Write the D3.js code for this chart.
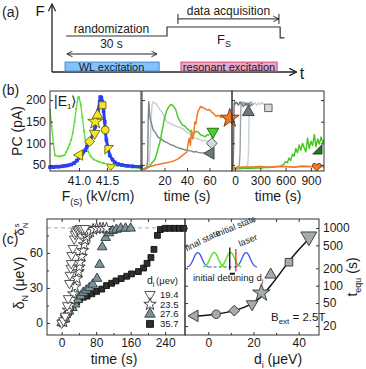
<!DOCTYPE html>
<html>
<head>
<meta charset="utf-8">
<script src="https://cdn.jsdelivr.net/npm/d3@7"></script>
<style>
body { margin: 0; background: #fff; }
svg text { font-family: "Liberation Sans", Arial, sans-serif; fill: #1a1a1a; }
</style>
</head>
<body>
<script>
// ---------- data ----------
// (a) timing scheme, seconds
const fieldT = [0, 33.3, 33.3, 70.6, 70.6, 72]
const fieldLevel = [0.8, 0.8, 1, 1, 0.76, 0.76]
const wlExc = [-0.3, 30.7]
const resExc = [37.9, 69.6]
const acqWin = [36.9, 70.2]
const randWin = [0.3, 30]

// (b) left: photocurrent vs field
const blueF = [40.48,40.54,40.59,40.64,40.70,40.75,40.80,40.86,40.91,40.96,41.02,41.06,41.11,41.14,41.18,41.21,41.25,41.29,41.31,41.34,41.37,41.38,41.40,41.42,41.44,41.46,41.47,41.49,41.52,41.55,41.60,41.64,41.70,41.77,41.86,41.96,42.11]
const bluePC = [45,45,46,46,47,48,49,51,54,60,68,76,84,92,100,110,122,138,156,175,196,207,206,196,174,150,128,108,88,72,62,56,52,50,48,47,46]
const greenF = [40.48,40.51,40.54,40.57,40.62,40.66,40.70,40.74,40.77,40.80,40.83,40.86,40.89,40.92,40.95,40.98,41.00,41.03,41.06,41.09,41.12,41.16,41.21,41.26,41.34,41.44,41.55,41.69,41.82,41.95,42.11]
const greenPC = [178,140,100,72,70,70,71,73,80,88,97,108,125,150,180,205,207,190,160,128,100,82,70,63,58,54,50,48,46,44,42]
const markF = [41.01, 41.19, 41.28, 41.29, 41.33, 41.42, 41.47, 41.54, 41.57]
const markPC = [73, 104, 123, 150, 165, 188, 131, 85, 47]
const markShape = ['triL', 'diamond', 'triD', 'star', 'triU', 'square', 'circle', 'corner', 'heart']

// (b) middle: 0-80 s
const midGrayDarkT = [0,2,4,5,5.5,6,6.5,7,8,9,10,12,14,16,18,20,22,24,26,28,30,32,34,36,38,40,42,44,46,48,50,52,54,56,58,60]
const midGrayDarkPC = [40,40,42,60,150,196,180,160,150,140,130,125,115,112,108,104,102,99,96,95,92,90,88,87,85,84,83,82,80,81,79,78,78,77,76,77]
const midGrayLightT = [0,4,6,7,8,9,10,11,12,13,14,16,18,20,22,24,26,28,30,32,34,36,38,40,42,44,46,48,50,52,54,56,58,60]
const midGrayLightPC = [40,42,45,80,150,190,196,194,192,190,185,178,172,160,150,148,145,142,140,138,136,134,130,126,122,118,113,112,110,108,106,107,105,104]
const midGreenT = [0,4,6,8,10,12,14,16,18,20,22,24,26,28,30,32,34,36,38,40,42,44,46,48,50,52,54,56,58,60]
const midGreenPC = [40,42,45,52,58,66,85,104,130,158,176,185,190,186,178,160,150,142,140,134,130,125,122,128,126,120,118,115,120,119]
const midOrangeT = [0,4,8,12,16,20,24,28,32,34,36,38,40,41,42,43,44,45,46,47,48,49,50,52,54,56,58,60,62,64,66,68,70,72,74,76]
const midOrangePC = [40,44,47,50,52,54,56,59,64,68,72,76,80,100,112,95,130,110,120,150,145,165,175,185,183,180,177,178,172,168,162,165,160,162,156,158]
const midMarkT = [61, 62, 63, 78]
const midMarkPC = [77, 100, 127, 158]

// (b) right: 0-1000 s
const rGray1T = [-36,-25,-20,-15,-12,-10,-5,0,20,40,60,80,100,120,140,160,180,200]
const rGray1PC = [42,44,60,130,180,192,196,190,195,188,196,190,185,193,188,192,186,190]
const rGray2T = [-36,0,30,50,60,65,70,75,80,100,120,140,160,180,200,220]
const rGray2PC = [40,42,45,48,80,150,185,195,190,196,188,194,190,195,188,192]
const rGray3T = [-36,50,100,130,150,160,165,170,175,180,200,220,240,260,280,300,320,340,360]
const rGray3PC = [40,42,44,46,50,80,150,185,195,190,196,190,194,188,193,190,195,190,188]
const rGreenT = [-36,0,50,100,150,200,250,300,350,400,450,500,550,580,600,620,640,660,680,700,720,740,760,780,800,820,840,860,880,900,920,940,960,980,1000,1020,1040,1055]
const rGreenPC = [40,41,41,42,42,42,43,43,44,44,45,46,48,52,58,55,66,60,75,70,88,78,96,84,100,90,80,112,88,105,95,120,92,110,98,115,102,108]
const rOrangeT = [-36,0,100,200,300,400,500,600,700,800,900,1000,1055]
const rOrangePC = [42,44,45,45,46,45,46,46,45,47,46,47,46]

// (c) left: detuning vs time
const legendDi = ['19.4', '23.5', '27.6', '35.7']
const s194T = [0,4,8,13,15,18,19,21,22,23,26,29,31,33,36,39,42,45,49,54]
const s194D = [0,2,6,15,21,34,41,47,51,58,64,72,76,78,80,80,81,81,81,81]
const s235T = [4,10,15,19,23,27,31,35,39,41,42,46,49,52,54,58,62,66,73,81,89,96,104]
const s235D = [1,5,11,15,20,25,31,38,44,48,52,57,62,67,71,74,77,78,80,81,81,81,81]
const s276T = [0,5,10,17,25,31,37,44,50,57,64,72,82,88,94,102,110,118,127,137,148,160]
const s276D = [0,3,7,10,13,16,20,23,26,28,30,33,38,50,65,73,77,79,80,81,81,81]
const s357T = [0,5,12,17,23,29,35,41,50,59,70,81,93,104,116,126,138,151,162,178,190,198,207,214,222,229,240,251,262,273,283]
const s357D = [0,3,7,10,14,17,18,20,22,23,25,27,29,32,34,36,38,40,42,44,47,51,56,63,75,80,81,81,81,81,81]
const saturation = 81.4

// (c) right: equilibration time vs initial detuning
const dI = [-6, 3.5, 11.5, 19.4, 23.5, 27.6, 35.7, 44.5]
const tEqu = [30, 32, 37, 48, 75, 155, 255, 710]
const equShape = ['triL', 'circle', 'diamond', 'triD', 'star', 'triU', 'square', 'triD']
const fitD = [-7,-2,3,8,13,18,23,28,33,38,43,47]
const fitT = [30,30.5,32,34.5,38.5,46,62,105,190,340,560,800]
const tEquTicks = [20, 50, 100, 200, 500, 1000]

// inset sketch: peak centres on an arbitrary energy axis
const finalPeaks = [1, 8.1]
const initialPeaks = [3.4, 5.8]
const peakProfile = [[-1.6,0],[-1.1,0.08],[-0.7,0.45],[-0.35,0.88],[0,1],[0.35,0.88],[0.7,0.45],[1.1,0.08],[1.6,0]]
const laserE = 6.6
const detuneE = 5.7

// ---------- setup ----------
const svg = d3.select('body').append('svg')
    .attr('width', 366)
    .attr('height', 369)

const defs = svg.append('defs')
defs.append('marker')
    .attr('id', 'arr')
    .attr('viewBox', '0 0 10 10')
    .attr('refX', 9).attr('refY', 5)
    .attr('markerWidth', 7).attr('markerHeight', 7)
    .attr('orient', 'auto-start-reverse')
    .append('path')
    .attr('d', 'M1,1 L9,5 L1,9')
    .attr('fill', 'none').attr('stroke', '#222').attr('stroke-width', 1.3)

function label(g, x, y, txt, size, anchor) {
    return g.append('text').attr('x', x).attr('y', y)
        .attr('font-size', size || 12)
        .attr('text-anchor', anchor || 'middle')
        .text(txt)
}

// custom marker shapes
const cornerSym = { draw(c, s) { const r = Math.sqrt(s) / 1.6; c.moveTo(-r, -r); c.lineTo(r, -r); c.lineTo(-r, r); c.closePath() } }
const cornerSym2 = { draw(c, s) { const r = Math.sqrt(s) / 1.6; c.moveTo(r, -r); c.lineTo(r, r); c.lineTo(-r, r); c.closePath() } }
const heartSym = { draw(c, s) {
    const r = Math.sqrt(s) / 3
    c.moveTo(0, r * 1.6)
    c.bezierCurveTo(-r * 2.4, 0, -r * 1.6, -r * 1.9, 0, -r * 0.6)
    c.bezierCurveTo(r * 1.6, -r * 1.9, r * 2.4, 0, 0, r * 1.6)
    c.closePath()
} }

function sym(shape, size) {
    const types = {
        triL: [d3.symbolTriangle, -90], triD: [d3.symbolTriangle, 180], triU: [d3.symbolTriangle, 0],
        diamond: [d3.symbolSquare, 45], square: [d3.symbolSquare, 0], circle: [d3.symbolCircle, 0],
        star: [d3.symbolStar, 0], corner: [cornerSym, 0], corner2: [cornerSym2, 0], heart: [heartSym, 0]
    }
    const t = types[shape]
    return { d: d3.symbol().type(t[0]).size(size)(), rot: t[1] }
}

function drawMarker(g, x, y, shape, size, fill, stroke) {
    const s = sym(shape, size)
    g.append('path')
        .attr('d', s.d)
        .attr('transform', `translate(${x},${y}) rotate(${s.rot})`)
        .attr('fill', fill)
        .attr('stroke', stroke)
        .attr('stroke-width', 0.9)
}

// ---------- (a) ----------
const ga = svg.append('g')
const tS = d3.scaleLinear().domain([0, 30]).range([66, 157])
const fS = d3.scaleLinear().domain([0, 1]).range([72, 27])

label(ga, 2, 17, '(a)', 14, 'start')
ga.append('line').attr('x1', 52).attr('y1', fS(0)).attr('x2', 52).attr('y2', 4)
    .attr('stroke', '#222').attr('stroke-width', 1.3).attr('marker-end', 'url(#arr)')
ga.append('line').attr('x1', 52).attr('y1', fS(0)).attr('x2', tS(76)).attr('y2', fS(0))
    .attr('stroke', '#222').attr('stroke-width', 1.3).attr('marker-end', 'url(#arr)')
label(ga, 40, 16, 'F', 15)
label(ga, 302, 79, 't', 16)

ga.append('rect')
    .attr('x', tS(wlExc[0])).attr('y', fS(0.22))
    .attr('width', tS(wlExc[1]) - tS(wlExc[0])).attr('height', fS(0.02) - fS(0.22))
    .attr('fill', '#84c2fb').attr('stroke', '#3f86d6')
ga.append('rect')
    .attr('x', tS(resExc[0])).attr('y', fS(0.22))
    .attr('width', tS(resExc[1]) - tS(resExc[0])).attr('height', fS(0.02) - fS(0.22))
    .attr('fill', '#eba6c8').attr('stroke', '#d64a68')
label(ga, tS(15), 70.5, 'WL  excitation', 11)
label(ga, (tS(resExc[0]) + tS(resExc[1])) / 2, 70.5, 'resonant  excitation', 11)

ga.append('path')
    .datum(d3.zip(fieldT, fieldLevel))
    .attr('d', d3.line().x(d => tS(d[0])).y(d => fS(d[1])))
    .attr('fill', 'none').attr('stroke', '#333').attr('stroke-width', 1.2)
label(ga, tS(15), 33, 'randomization', 12)
label(ga, tS(15), 48, '30 s', 12)
ga.append('line')
    .attr('x1', tS(randWin[0])).attr('x2', tS(randWin[1])).attr('y1', fS(0.4)).attr('y2', fS(0.4))
    .attr('stroke', '#222').attr('marker-start', 'url(#arr)').attr('marker-end', 'url(#arr)')

ga.append('line')
    .attr('x1', tS(acqWin[0])).attr('x2', tS(acqWin[1])).attr('y1', fS(1.18)).attr('y2', fS(1.18))
    .attr('stroke', '#222').attr('marker-end', 'url(#arr)')
acqWin.forEach(t => ga.append('line')
    .attr('x1', tS(t)).attr('x2', tS(t)).attr('y1', fS(1.18) - 5).attr('y2', fS(1.18) + 5)
    .attr('stroke', '#222'))
label(ga, (tS(acqWin[0]) + tS(acqWin[1])) / 2, 15, 'data acquisition', 12)
const fsT = label(ga, 224, 44, 'F', 13)
fsT.append('tspan').attr('font-size', 9).attr('dy', 3).text('S')

// ---------- (b) ----------
const gb = svg.append('g')
const bTop = 91, bBot = 171
const yPC = d3.scaleLinear().domain([36, 221]).range([bBot, bTop])
const xF = d3.scaleLinear().domain([40.48, 42.11]).range([50, 141])
const xMid = d3.scaleLinear().domain([0, 80]).range([142, 232])
const xR = d3.scaleLinear().domain([-36, 1055]).range([232, 324])

label(gb, 2, 95, '(b)', 14, 'start')

function clipFor(id, x0, x1) {
    defs.append('clipPath').attr('id', id).append('rect')
        .attr('x', x0).attr('y', bTop).attr('width', x1 - x0).attr('height', bBot - bTop)
}
clipFor('cL', 50, 141); clipFor('cM', 142, 232); clipFor('cR', 232, 324)

function trace(g, xs, ys, xsc, col, w, clip) {
    g.append('path')
        .datum(d3.zip(xs, ys))
        .attr('d', d3.line().x(d => xsc(d[0])).y(d => yPC(d[1])))
        .attr('fill', 'none').attr('stroke', col).attr('stroke-width', w)
        .attr('stroke-linejoin', 'round')
        .attr('clip-path', `url(#${clip})`)
}

// left
trace(gb, greenF, greenPC, xF, '#62dc3a', 1.4, 'cL')
gb.selectAll('.gdot').data(d3.zip(greenF, greenPC)).enter().append('circle')
    .attr('cx', d => xF(d[0])).attr('cy', d => yPC(d[1])).attr('r', 1.1).attr('fill', '#62dc3a')
trace(gb, blueF, bluePC, xF, '#2a3ff0', 3, 'cL')
gb.selectAll('.bdot').data(d3.zip(blueF, bluePC)).enter().append('rect')
    .attr('x', d => xF(d[0]) - 1.8).attr('y', d => yPC(d[1]) - 1.8)
    .attr('width', 3.6).attr('height', 3.6).attr('fill', '#2a3ff0')
markF.forEach((f, i) => drawMarker(gb, xF(f), yPC(markPC[i]), markShape[i], markShape[i] === 'star' ? 70 : 48, '#f2e626', '#6b6400'))
const e1 = label(gb, 54, 106, '|E', 14, 'start')
e1.append('tspan').attr('font-size', 8).attr('dy', 3).text('1')
e1.append('tspan').attr('dy', -3).text('\u27E9')

// middle
trace(gb, midGrayLightT, midGrayLightPC, xMid, '#c6ced2', 1.4, 'cM')
trace(gb, midGrayDarkT, midGrayDarkPC, xMid, '#7b858b', 1.4, 'cM')
trace(gb, midGreenT, midGreenPC, xMid, '#4cc92a', 1.5, 'cM')
trace(gb, midOrangeT, midOrangePC, xMid, '#f07a2c', 1.5, 'cM')

// right
trace(gb, rGray3T, rGray3PC, xR, '#c9d1d5', 1.4, 'cR')
trace(gb, rGray2T, rGray2PC, xR, '#9aa3a8', 1.4, 'cR')
trace(gb, rGray1T, rGray1PC, xR, '#6e787e', 1.4, 'cR')
trace(gb, rGreenT, rGreenPC, xR, '#42c41e', 1.4, 'cR')
trace(gb, rOrangeT, rOrangePC, xR, '#f07a2c', 1.8, 'cR')

drawMarker(gb, xMid(midMarkT[0]), yPC(midMarkPC[0]), 'triL', 60, '#6e787e', '#333')
drawMarker(gb, xMid(midMarkT[1]), yPC(midMarkPC[1]), 'diamond', 60, '#d3dadd', '#555')
drawMarker(gb, xMid(midMarkT[2]), yPC(midMarkPC[2]), 'triD', 60, '#3fd42a', '#1d5e10')
drawMarker(gb, xMid(midMarkT[3]), yPC(midMarkPC[3]), 'star', 110, '#f07a2c', '#7a3000')
drawMarker(gb, xR(158), yPC(172), 'triU', 60, '#6e787e', '#333')
drawMarker(gb, xR(395), yPC(182), 'square', 55, '#d3dadd', '#555')
drawMarker(gb, xR(976), yPC(86), 'corner2', 55, '#1f7a1f', '#0b3a0b')
drawMarker(gb, xR(969), yPC(47), 'heart', 70, '#f07a2c', '#7a3000')

// frames and axes
;[[50, 141], [142, 232], [232, 324]].forEach(p => gb.append('rect')
    .attr('x', p[0]).attr('y', bTop).attr('width', p[1] - p[0]).attr('height', bBot - bTop)
    .attr('fill', 'none').attr('stroke', '#333').attr('stroke-width', 1))

function styleAxis(sel) {
    sel.select('.domain').remove()
    sel.selectAll('text').attr('font-size', 12).attr('font-family', '"Liberation Sans", Arial, sans-serif').attr('fill', '#1a1a1a')
    sel.selectAll('line').attr('stroke', '#333')
}
gb.append('g').attr('transform', 'translate(50,0)')
    .call(d3.axisLeft(yPC).tickValues([50, 100, 150, 200]).tickSize(-3).tickPadding(4)).call(styleAxis)
;[142, 232].forEach(x => gb.append('g').attr('transform', `translate(${x},0)`)
    .call(d3.axisLeft(yPC).tickValues([50, 100, 150, 200]).tickSize(-3).tickFormat('')).call(styleAxis))
gb.append('g').attr('transform', 'translate(324,0)')
    .call(d3.axisRight(yPC).tickValues([50, 100, 150, 200]).tickSize(-3).tickFormat('')).call(styleAxis)
gb.append('g').attr('transform', `translate(0,${bBot})`)
    .call(d3.axisBottom(xF).tickValues([41.0, 41.5]).tickFormat(d3.format('.1f')).tickSize(-3).tickPadding(5)).call(styleAxis)
gb.append('g').attr('transform', `translate(0,${bBot})`)
    .call(d3.axisBottom(xMid).tickValues([20, 40, 60]).tickSize(-3).tickPadding(5)).call(styleAxis)
gb.append('g').attr('transform', `translate(0,${bBot})`)
    .call(d3.axisBottom(xR).tickValues([0, 300, 600, 900]).tickSize(-3).tickPadding(5)).call(styleAxis)

label(gb, 0, 0, 'PC (pA)', 14).attr('transform', 'translate(22,131) rotate(-90)')
const fl = label(gb, 98, 201, 'F', 14)
fl.append('tspan').attr('font-size', 9).attr('dy', 4).text('(S)')
fl.append('tspan').attr('dy', -4).text(' (kV/cm)')
label(gb, 187, 201, 'time (s)', 14)
label(gb, 278, 201, 'time (s)', 14)

// ---------- (c) ----------
const gc = svg.append('g')
const cTop = 219, cBot = 335
const xT = d3.scaleLinear().domain([-34, 286]).range([47, 185])
const yD = d3.scaleLinear().domain([-10.3, 89]).range([cBot, cTop])
const xD = d3.scaleLinear().domain([-10.3, 49]).range([185, 319])
const yE = d3.scaleLog().domain([14, 1430]).range([cBot, cTop])

label(gc, 2, 244, '(c)', 14, 'start')

gc.append('line')
    .attr('x1', 47).attr('x2', 185).attr('y1', yD(saturation)).attr('y2', yD(saturation))
    .attr('stroke', '#a9c0c0').attr('stroke-width', 1.2).attr('stroke-dasharray', '4,3')

const cSeries = [
    { t: s357T, d: s357D, shape: 'square', fill: '#2e2e2e', stroke: '#111', size: 34 },
    { t: s276T, d: s276D, shape: 'triU', fill: '#7f9399', stroke: '#2a3a3e', size: 40 },
    { t: s235T, d: s235D, shape: 'star', fill: '#fff', stroke: '#333', size: 42 },
    { t: s194T, d: s194D, shape: 'triD', fill: '#fff', stroke: '#444', size: 40 }
]
cSeries.forEach(s => s.t.forEach((t, i) => drawMarker(gc, xT(t), yD(s.d[i]), s.shape, s.size, s.fill, s.stroke)))

// legend
label(gc, 147, 284, 'd', 10.5, 'start').append('tspan').attr('font-size', 7).attr('dy', 3).text('i')
label(gc, 156, 284, '(\u03BCev)', 9.5, 'start')
const legShapes = ['triD', 'star', 'triU', 'square']
const legY = [294.5, 304.3, 314.1, 323.9]
legendDi.forEach((v, i) => {
    const s = cSeries[3 - i]
    drawMarker(gc, 150, legY[i], legShapes[i], 48, s.fill, s.stroke)
    label(gc, 160, legY[i] + 3.3, v, 9.5, 'start')
})

// right panel: fit + markers
gc.append('path')
    .datum(d3.zip(fitD, fitT))
    .attr('d', d3.line().curve(d3.curveMonotoneX).x(d => xD(d[0])).y(d => yE(d[1])))
    .attr('fill', 'none').attr('stroke', '#111').attr('stroke-width', 1.5)
dI.forEach((d, i) => drawMarker(gc, xD(d), yE(tEqu[i]), equShape[i],
    i === dI.length - 1 ? 110 : (equShape[i] === 'star' ? 95 : 58), '#a4acaf', '#333'))

// inset sketch
const xE = d3.scaleLinear().domain([0, 10]).range([191, 259])
const yA = d3.scaleLinear().domain([0, 1]).range([267, 252])
const peakLine = d3.line().curve(d3.curveBasis).x(d => xE(d[0])).y(d => yA(d[1]))
gc.append('path').datum([[finalPeaks[0] + 1.6, 0], [finalPeaks[1] - 1.6, 0]])
    .attr('d', peakLine).attr('stroke', '#3a55e8').attr('stroke-dasharray', '3,2').attr('fill', 'none').attr('stroke-width', 1.2)
finalPeaks.forEach(c => gc.append('path')
    .datum(peakProfile.map(p => [c + p[0], p[1]]))
    .attr('d', peakLine).attr('fill', 'none').attr('stroke', '#3a55e8').attr('stroke-width', 1.3))
initialPeaks.forEach(c => gc.append('path')
    .datum(peakProfile.map(p => [c + p[0], p[1]]))
    .attr('d', peakLine).attr('fill', 'none').attr('stroke', '#64e034').attr('stroke-width', 1.5))
gc.append('line').attr('x1', xE(detuneE)).attr('x2', xE(detuneE)).attr('y1', yA(1.3)).attr('y2', yA(-0.2))
    .attr('stroke', '#111').attr('stroke-width', 1.3)
gc.append('line').attr('x1', xE(laserE)).attr('x2', xE(laserE)).attr('y1', yA(1.2)).attr('y2', yA(-0.3))
    .attr('stroke', '#ee2a2a').attr('stroke-width', 1.3)
gc.append('line').attr('x1', xE(detuneE)).attr('x2', xE(laserE) - 1).attr('y1', yA(-0.45)).attr('y2', yA(-0.45))
    .attr('stroke', '#111').attr('stroke-width', 2)
label(gc, 0, 0, 'final state', 9).attr('fill', '#3a55e8').attr('transform', 'translate(204,243) rotate(-26)')
label(gc, 0, 0, 'initial state', 9).attr('fill', '#64e034').attr('transform', 'translate(237,229) rotate(-22)')
label(gc, 0, 0, 'laser', 9).attr('fill', '#ee2a2a').attr('transform', 'translate(249,243) rotate(-22)')
const idt = label(gc, 193, 281, 'initial detuning d', 9.5, 'start').attr('fill', '#333')
idt.append('tspan').attr('font-size', 7).attr('dy', 3).text('i')

const bx = label(gc, 271, 321, 'B', 11.5, 'start')
bx.append('tspan').attr('font-size', 8).attr('dy', 3).text('ext')
bx.append('tspan').attr('dy', -3).text(' = 2.5T')

// frames and axes
;[[47, 185], [185, 319]].forEach(p => gc.append('rect')
    .attr('x', p[0]).attr('y', cTop).attr('width', p[1] - p[0]).attr('height', cBot - cTop)
    .attr('fill', 'none').attr('stroke', '#333').attr('stroke-width', 1))

gc.append('g').attr('transform', 'translate(47,0)')
    .call(d3.axisLeft(yD).tickValues([0, 30, 60]).tickSize(-3).tickPadding(4)).call(styleAxis)
gc.append('g').attr('transform', 'translate(47,0)')
    .call(d3.axisLeft(yD).tickValues([15, 45, 75]).tickSize(-2).tickFormat('')).call(styleAxis)
gc.append('g').attr('transform', `translate(0,${cBot})`)
    .call(d3.axisBottom(xT).tickValues([0, 80, 160, 240]).tickSize(-3).tickPadding(3)).call(styleAxis)
gc.append('g').attr('transform', `translate(0,${cBot})`)
    .call(d3.axisBottom(xT).tickValues([40, 120, 200]).tickSize(-2).tickFormat('')).call(styleAxis)
gc.append('g').attr('transform', `translate(0,${cTop})`)
    .call(d3.axisTop(xT).tickValues([0, 40, 80, 120, 160, 200, 240]).tickSize(-3).tickFormat('')).call(styleAxis)

gc.append('g').attr('transform', 'translate(319,0)')
    .call(d3.axisRight(yE).tickValues(tEquTicks).tickFormat(d3.format('d')).tickSize(-3).tickPadding(4)).call(styleAxis)
gc.append('g').attr('transform', 'translate(185,0)')
    .call(d3.axisLeft(yE).tickValues(tEquTicks).tickSize(-3).tickFormat('')).call(styleAxis)
gc.append('g').attr('transform', `translate(0,${cBot})`)
    .call(d3.axisBottom(xD).tickValues([0, 20, 40]).tickSize(-3).tickPadding(3)).call(styleAxis)
gc.append('g').attr('transform', `translate(0,${cBot})`)
    .call(d3.axisBottom(xD).tickValues([10, 30]).tickSize(-2).tickFormat('')).call(styleAxis)
gc.append('g').attr('transform', `translate(0,${cTop})`)
    .call(d3.axisTop(xD).tickValues([0, 10, 20, 30, 40]).tickSize(-3).tickFormat('')).call(styleAxis)

// axis titles
const dl = label(gc, 0, 0, '\u03B4', 14).attr('transform', 'translate(24,283) rotate(-90)')
dl.append('tspan').attr('font-size', 9).attr('dy', 4).text('N')
dl.append('tspan').attr('dy', -4).text(' (\u03BCeV)')
const ds = label(gc, 0, 0, '\u03B4', 13).attr('transform', 'translate(24,229) rotate(-90)')
ds.append('tspan').attr('font-size', 8).attr('dy', 4).text('N')
ds.append('tspan').attr('font-size', 8).attr('dy', -9).attr('dx', -5).text('s')
label(gc, 114, 364, 'time (s)', 14)
const dil = label(gc, 278, 364, 'd', 14)
dil.append('tspan').attr('font-size', 9).attr('dy', 4).text('i')
dil.append('tspan').attr('dy', -4).text(' (\u03BCeV)')
const tl = label(gc, 0, 0, 't', 14).attr('transform', 'translate(357,277) rotate(-90)')
tl.append('tspan').attr('font-size', 9).attr('dy', 4).text('equ')
tl.append('tspan').attr('dy', -4).text(' (s)')
</script>
</body>
</html>
